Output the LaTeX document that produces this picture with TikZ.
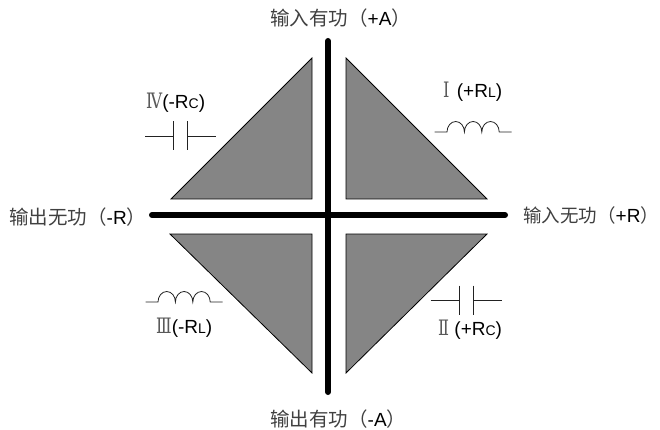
\documentclass[tikz,border=0pt]{standalone}
\usepackage{fontspec}
\setmainfont{Liberation Sans}
\newfontfamily\cjk{Noto Sans CJK SC}
\newfontfamily\numeral{DejaVu Serif}
\usetikzlibrary{arrows.meta,positioning,calc}
\definecolor{quadgray}{HTML}{858585}
\definecolor{partink}{HTML}{222222}
\newcommand{\rn}[1]{\scalebox{0.95}[1.25]{\numeral\fontsize{17}{17}\selectfont\color{black!65}#1}}
\newcommand{\lowcap}[1]{{\fontsize{14}{14}\selectfont #1}}
\newcommand{\zh}[1]{{\cjk\fontsize{19.5}{20}\selectfont\color{black!75}#1}}
\newcommand{\zhsmall}[1]{{\cjk\fontsize{18.5}{20}\selectfont\color{black!75}#1}}
\begin{document}
\begin{tikzpicture}[
  x=1pt, y=-1pt,
  font=\fontsize{19}{20}\selectfont,
  axis/.style={line width=6pt, line cap=round, black},
  quad/.style={draw=black, line width=0.8pt, fill=quadgray, line join=miter},
  lbl/.style={inner sep=0pt, anchor=west, text=black},
  part/.style={draw=partink, line width=0.8pt},
  inductor/.pic={
    \draw[part] (-38.5,0) -- (-26,0)
      arc[start angle=180, end angle=0, x radius=8.7pt, y radius=10.5pt]
      arc[start angle=180, end angle=0, x radius=8.7pt, y radius=10.5pt]
      arc[start angle=180, end angle=0, x radius=8.7pt, y radius=10.5pt]
      -- (38.5,0);
  },
  capacitor/.pic={
    \draw[part] (-35.5,0) -- (-7,0) (-7,-14.5) -- (-7,14.5);
    \draw[part] (7,-14.5) -- (7,14.5) (7,0) -- (35.5,0);
  },
]
\useasboundingbox (0,0) rectangle (660,430);
% quadrants
\draw[quad] (346,58) -- (346,199) -- (487,199) -- cycle;
\draw[quad] (312,58) -- (312,199) -- (171,199) -- cycle;
\draw[quad] (312,373) -- (312,234) -- (170,234) -- cycle;
\draw[quad] (346,373) -- (346,234) -- (487,234) -- cycle;
% axes
\coordinate (top) at (328,41);
\coordinate (bottom) at (328,392);
\coordinate (left) at (152,215);
\coordinate (right) at (505,215);
\draw[axis] (top) -- (bottom);
\draw[axis] (left) -- (right);
% axis labels
\node[lbl] (inP) at (270,18) {\zh{输入有功（}+A\zh{）}};
\node[lbl] (outP) at (270,419) {\zh{输出有功（}-A\zh{）}};
\node[lbl] (outQ) at (9,217) {\zh{输出无功（}-R\zh{）}};
\node[lbl] (inQ) at (523,215) {\zhsmall{输入无功（}+R\zhsmall{）}};
% quadrant labels
\node[lbl] (q1) at (443,92) {\rn{Ⅰ}\hspace{2pt} (+R\lowcap{L})};
\node[lbl] (q2) at (438,330) {\rn{Ⅱ} (+R\lowcap{C})};
\node[lbl] (q3) at (156,328) {\rn{Ⅲ}(-R\lowcap{L})};
\node[lbl] (q4) at (146,103) {\rn{Ⅳ}(-R\lowcap{C})};
% parts
\pic at (473,132) {inductor};
\pic at (184,302) {inductor};
\pic at (180.5,136) {capacitor};
\pic at (466,300) {capacitor};
\end{tikzpicture}
\end{document}
